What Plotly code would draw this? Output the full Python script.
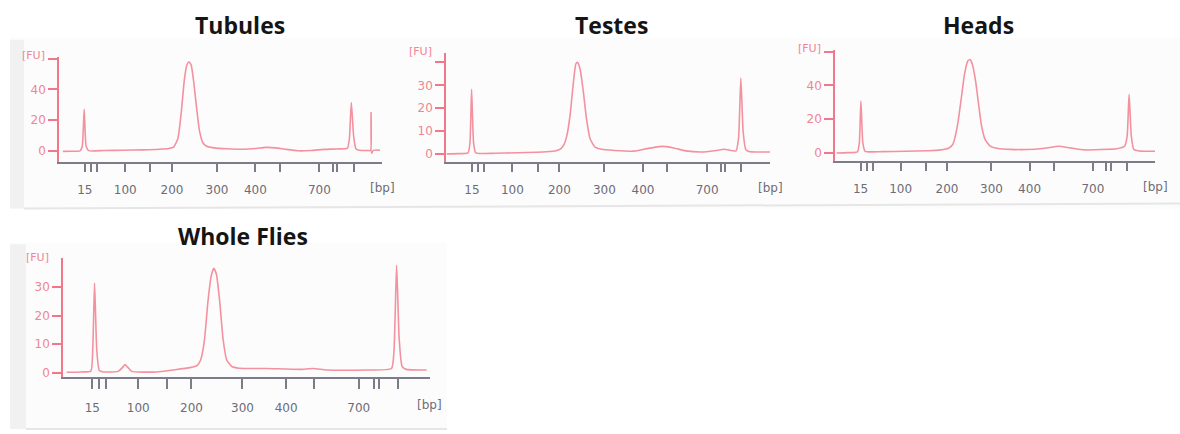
import plotly.graph_objects as go

W, H = 1180, 434

# DNA 1000 ladder: sizes and their migration positions (axis units 0-100)
ladder_bp = [15, 25, 50, 100, 150, 200, 300, 400, 500, 700, 850, 1000, 1500]
ladder_pos = [8.0, 9.9, 11.8, 20.5, 28.3, 35.0, 48.9, 60.8, 68.3, 80.6, 84.8, 86.1, 91.2]
ladder_labels = ["15", "", "", "100", "", "200", "300", "400", "", "700", "", "", ""]

titles = ["Tubules", "Testes", "Heads", "Whole Flies"]

# Tubules
tub_x = [1.2, 4, 6.5, 7.2, 7.8, 8.4, 9.2, 14, 20, 26, 31, 34, 35.5, 36.8, 37.8, 38.8, 39.6, 40.2,
         40.9, 41.7, 42.6, 43.5, 44.5, 45.7, 48, 52, 57, 61, 64, 67, 70, 74, 78, 82, 86, 89.3,
         89.9, 90.5, 91.2, 91.9, 93, 95.5, 96.45, 96.6, 96.75, 97.3, 99.4]
tub_fu = [-0.3, -0.2, 0, 3, 27, 3, 0.2, 0.3, 0.5, 0.7, 1.1, 1.6, 2.5, 8, 24, 46, 56, 58,
          56, 45, 28, 13, 5.5, 3, 2, 1.4, 1.1, 1.6, 2.3, 2.0, 1.1, 0.1, 0.3, 1.0, 1.3, 1.8,
          8, 31.5, 10, 1.5, 0.5, 0.3, 0.3, 25, -1.5, 0.4, 0.5]

# Testes
tes_x = [0.2, 4, 6.8, 7.4, 7.9, 8.5, 9.2, 15, 22, 28, 31, 34, 35.5, 36.4, 37.3, 38.3, 39.3, 40.1,
         40.6, 41.4, 42.4, 43.4, 44.5, 46, 48, 52, 58, 62, 66.5, 70, 74, 79, 83, 86, 89.5, 90.3,
         91, 91.7, 92.5, 93.5, 96, 100]
tes_fu = [0, 0.1, 0.4, 5, 28.3, 5, 0.4, 0.3, 0.5, 0.7, 0.9, 1.4, 2.3, 4, 8, 17, 31, 39.5,
          40, 37, 27, 15, 6.5, 3, 2, 1.5, 1.2, 2.3, 3.3, 2.7, 1.3, 0.8, 1.4, 2.0, 1.3, 7,
          33.2, 10, 2, 1, 0.8, 0.8]

# Heads
hea_x = [0.5, 4, 7.0, 7.6, 8.1, 8.7, 9.4, 15, 22, 29, 33, 35.5, 36.8, 37.6, 38.5, 39.5, 40.5, 41.5,
         42.2, 43, 43.9, 44.8, 45.8, 46.9, 48.5, 51, 55, 60, 65.5, 70, 73.5, 78, 83, 88, 90.5,
         91.3, 91.9, 92.6, 93.4, 95, 100]
hea_fu = [0, 0.2, 0.6, 6, 30.8, 6, 1, 0.8, 1.0, 1.3, 1.8, 2.8, 5, 10, 19, 33, 47, 54.5,
          55.3, 52, 43, 30, 16, 8, 4, 2.6, 2.1, 2, 2.8, 4, 3, 1.8, 2, 2.5, 4,
          10, 34.7, 10, 2, 1.2, 1]

# Whole Flies
who_x = [1, 5, 7.6, 8.1, 8.6, 9.2, 9.9, 11, 15, 16.3, 16.9, 17.6, 18.7, 25.5, 30, 34.6, 36.5, 37.5,
         38.5, 39.5, 40.4, 41.1, 41.8, 42.7, 43.6, 44.6, 46, 48, 55.5, 64.6, 68.2, 71.9, 82.8,
         89.5, 90.2, 90.9, 91.6, 92.4, 93.5, 99.1]
who_fu = [0.2, 0.3, 0.6, 8, 31.4, 8, 0.8, 0.3, 0.5, 2, 2.9, 2, 0.5, 0.3, 1.0, 1.8, 2.5, 4.5,
          11, 25, 34, 36.6, 34.5, 25, 12, 4.5, 2.2, 1.6, 1.5, 1.2, 1.5, 1.0, 1.0,
          1.5, 8, 37.7, 12, 2.2, 1.2, 1.0]

# y tick values and their labels per panel
tub_yticks, tub_ylabels = [0, 20, 40, 60], ["0", "20", "40", ""]
tes_yticks, tes_ylabels = [0, 10, 20, 30, 40], ["0", "10", "20", "30", ""]
hea_yticks, hea_ylabels = [0, 20, 40, 60], ["0", "20", "40", ""]
who_yticks, who_ylabels = [0, 10, 20, 30], ["0", "10", "20", "30"]

series = [(tub_x, tub_fu), (tes_x, tes_fu), (hea_x, hea_fu), (who_x, who_fu)]
yticks = [(tub_yticks, tub_ylabels), (tes_yticks, tes_ylabels), (hea_yticks, hea_ylabels), (who_yticks, who_ylabels)]

# panel geometry in pixels
panels = [
    dict(x0=59, x1=382, yt=57, yb=163, yr=[-7.1, 61.3], title_xy=(240, 25), tl=8, ts=8, bp_dy=26),
    dict(x0=446, x1=770, yt=53, yb=163, yr=[-3.5, 44.3], title_xy=(611, 25), tl=8, ts=8, bp_dy=26),
    dict(x0=835, x1=1155, yt=50, yb=162, yr=[-4.7, 61.2], title_xy=(978, 25), tl=8, ts=8, bp_dy=26),
    dict(x0=63, x1=430, yt=260, yb=380, yr=[-1.6, 40.1], title_xy=(243, 238), tl=10, ts=8, bp_dy=28),
]

PINK_LINE = "#f4919f"
PINK_AXIS = "#f0788a"
PINK_TEXT = "#f08595"
GRAY_AXIS = "#7d7d8a"
GRAY_TEXT = "#6c6c78"

fig = go.Figure()
layout = {}
annotations = []
shapes = []

# faint scan backgrounds
shapes.append(dict(type="rect", xref="paper", yref="paper", x0=10 / W, x1=1.0, y0=1 - 210 / H, y1=1 - 38 / H,
                   fillcolor="#fcfcfc", line=dict(width=0), layer="below"))
shapes.append(dict(type="rect", xref="paper", yref="paper", x0=10 / W, x1=24 / W, y0=1 - 210 / H, y1=1 - 40 / H,
                   fillcolor="#f1f1f1", line=dict(width=0), layer="below"))
shapes.append(dict(type="line", xref="paper", yref="paper", x0=24 / W, x1=1.0, y0=1 - 210 / H, y1=1 - 205 / H,
                   line=dict(color="#e6e6e6", width=2), layer="below"))
shapes.append(dict(type="rect", xref="paper", yref="paper", x0=10 / W, x1=447 / W, y0=1 - 432 / H, y1=1 - 244 / H,
                   fillcolor="#fcfcfc", line=dict(width=0), layer="below"))
shapes.append(dict(type="rect", xref="paper", yref="paper", x0=10 / W, x1=26 / W, y0=1 - 432 / H, y1=1 - 246 / H,
                   fillcolor="#f1f1f1", line=dict(width=0), layer="below"))
shapes.append(dict(type="line", xref="paper", yref="paper", x0=26 / W, x1=447 / W, y0=1 - 432 / H, y1=1 - 432 / H,
                   line=dict(color="#e6e6e6", width=2), layer="below"))

for i, (p, (xs, ys), (yv, yl), t) in enumerate(zip(panels, series, yticks, titles)):
    n = "" if i == 0 else str(i + 1)
    fig.add_trace(go.Scatter(x=xs, y=ys, mode="lines", xaxis="x" + n, yaxis="y" + n,
                             line=dict(color=PINK_LINE, width=1.6, shape="spline", smoothing=0.5),
                             showlegend=False, hoverinfo="skip"))
    layout["xaxis" + n] = dict(
        domain=[p["x0"] / W, p["x1"] / W], anchor="y" + n, range=[0, 100],
        showline=True, linecolor=GRAY_AXIS, linewidth=1.5, mirror=False,
        ticks="outside", ticklen=p["tl"], tickwidth=1.5, tickcolor=GRAY_AXIS,
        tickvals=ladder_pos, ticktext=ladder_labels, ticklabelstandoff=p["ts"],
        tickfont=dict(family="DejaVu Sans", size=12, color=GRAY_TEXT),
        showgrid=False, zeroline=False, fixedrange=True,
    )
    layout["yaxis" + n] = dict(
        domain=[1 - p["yb"] / H, 1 - p["yt"] / H], anchor="x" + n, range=p["yr"],
        showline=True, linecolor=PINK_AXIS, linewidth=1.5,
        ticks="outside", ticklen=9, tickwidth=1.5, tickcolor=PINK_AXIS,
        tickvals=yv, ticktext=yl,
        tickfont=dict(family="DejaVu Sans", size=12, color=PINK_TEXT),
        showgrid=False, zeroline=False, fixedrange=True,
    )
    annotations.append(dict(text="[FU]", xref="paper", yref="paper", x=(p["x0"] - 12) / W, y=1 - (p["yt"] - 1) / H,
                            xanchor="right", yanchor="middle", showarrow=False,
                            font=dict(family="DejaVu Sans", size=11, color=PINK_TEXT)))
    annotations.append(dict(text="[bp]", xref="paper", yref="paper", x=p["x1"] / W,
                            y=1 - (p["yb"] + p["bp_dy"]) / H,
                            xanchor="center", yanchor="middle", showarrow=False,
                            font=dict(family="DejaVu Sans", size=12, color=GRAY_TEXT)))
    annotations.append(dict(text="<b>%s</b>" % t, xref="paper", yref="paper", x=p["title_xy"][0] / W,
                            y=1 - p["title_xy"][1] / H, xanchor="center", yanchor="middle", showarrow=False,
                            font=dict(family="Open Sans", size=23, color="#151515")))

fig.update_layout(**layout)
fig.update_layout(width=W, height=H, margin=dict(l=0, r=0, t=0, b=0),
                  paper_bgcolor="white", plot_bgcolor="rgba(0,0,0,0)",
                  annotations=annotations, shapes=shapes)

fig.write_html("out.html")
